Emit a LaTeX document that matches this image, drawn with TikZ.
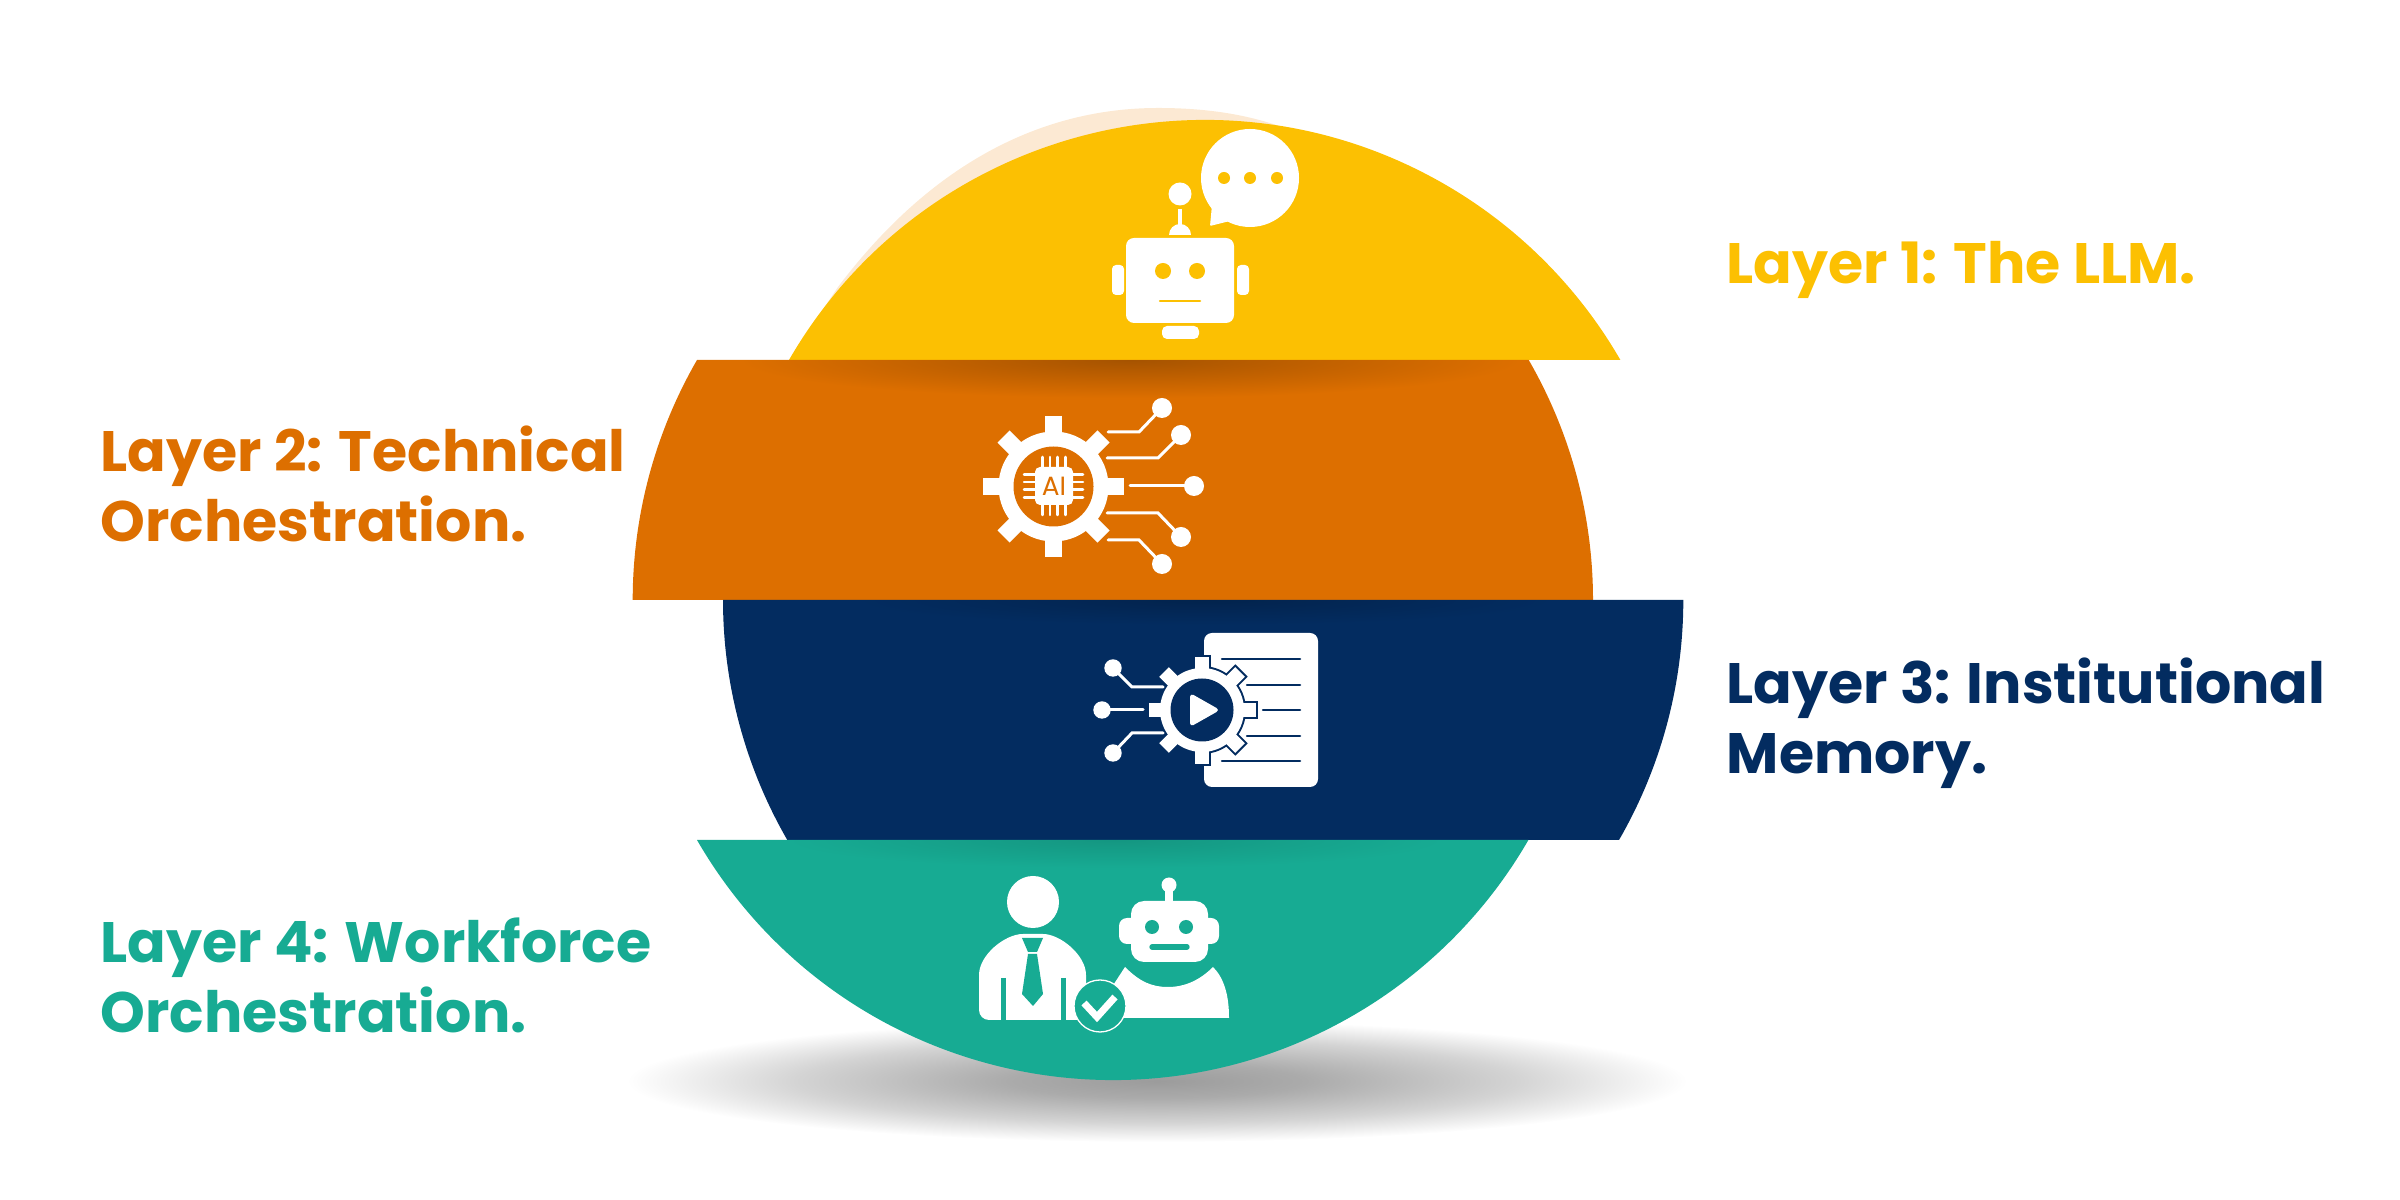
\documentclass[tikz,border=0pt]{standalone}
\usepackage{fontspec}
\setmainfont{Poppins}
\definecolor{layerone}{HTML}{FCC002}
\definecolor{layertwo}{HTML}{DD6F00}
\definecolor{layerthree}{HTML}{032C60}
\definecolor{layerfour}{HTML}{17AB93}
\definecolor{cream}{HTML}{FCE9D3}
\pgfdeclareradialshading{groundshadow}{\pgfpointorigin}{color(0bp)=(black!39); color(7bp)=(black!33); color(17bp)=(black!17); color(25bp)=(white); color(50bp)=(white)}
\tikzset{
  layertext/.style={font=\fontsize{16.2}{19.9}\selectfont\bfseries,align=left,anchor=north west,inner sep=0pt},
  wire/.style={white,line width=0.03cm,line cap=round},
  slot/.style={line width=0.025cm,line cap=round}
}
\begin{document}
\begin{tikzpicture}[x=0.01cm,y=-0.01cm,yshift=12cm]
\useasboundingbox (0,0) rectangle (2400,1200);

% Draw ground shadow
\shade[shading=groundshadow] (1157,1081) ellipse [x radius=530,y radius=61];

% Draw layers
\fill[cream] (789,360) -- (838,287) .. controls (930,165) and (1040,108) .. (1158,108) .. controls (1205,108) and (1245,114) .. (1282,127) -- cycle;
\fill[layerone] (789,360) arc (210:330:480) -- cycle;
\fill[layertwo] (697,360) arc (210:180:480) -- (1593,600) arc (360:330:480) -- cycle;
\fill[layerthree] (723,600) arc (180:150:480) -- (1619,840) arc (30:0:480) -- cycle;
\fill[layerfour] (697,840) arc (150:30:480) -- cycle;

% Add shadows under the upper edges
\begin{scope}
\clip (697,361) rectangle (1529,420);
\shade[inner color=layertwo!75!black,outer color=layertwo] (1130,360) ellipse [x radius=390,y radius=38];
\end{scope}
\begin{scope}
\clip (723,601) rectangle (1683,650);
\shade[inner color=layerthree!80!black,outer color=layerthree] (1205,600) ellipse [x radius=350,y radius=25];
\end{scope}
\begin{scope}
\clip (697,841) rectangle (1529,890);
\shade[inner color=layerfour!88!black,outer color=layerfour] (1115,840) ellipse [x radius=330,y radius=28];
\end{scope}

% Draw chat robot
\fill[white,rounded corners=0.08cm] (1126,238) rectangle (1234,323);
\fill[white,rounded corners=0.04cm] (1124,265) -- (1112,265) -- (1112,295) -- (1124,295) -- cycle;
\fill[white,rounded corners=0.04cm] (1237,265) -- (1249,265) -- (1249,295) -- (1237,295) -- cycle;
\fill[white,rounded corners=0.05cm] (1162,326) -- (1162,339) -- (1199,339) -- (1199,326) -- cycle;
\fill[layerone] (1163,271) circle (8);
\fill[layerone] (1197,271) circle (8);
\draw[layerone,slot] (1160,301) -- (1200,301);
\fill[white] (1180,194) circle (11.5);
\draw[white,line width=0.035cm] (1180,209) -- (1180,227);
\fill[white] (1169,235) arc (180:360:11) -- cycle;
\fill[white] (1250,178) circle (49);
\fill[white,rounded corners=0.01cm] (1212,205) -- (1210,226) -- (1230,221) -- cycle;
\fill[layerone] (1224,178) circle (6);
\fill[layerone] (1250,178) circle (6);
\fill[layerone] (1277,178) circle (6);

% Draw AI gear
\draw[white,line width=0.17cm] (983,486.5) -- (1124,486.5);
\draw[white,line width=0.17cm] (1053.5,416) -- (1053.5,557);
\draw[white,line width=0.17cm] (1003.5,436.5) -- (1103.5,536.5);
\draw[white,line width=0.17cm] (1003.5,536.5) -- (1103.5,436.5);
\fill[white] (1053.5,486.5) circle (55);
\fill[layertwo] (1053.5,486.5) circle (40);
\draw[wire,line width=0.025cm] (1024,474.3) -- (1083,474.3);
\draw[wire,line width=0.025cm] (1024,482) -- (1083,482);
\draw[wire,line width=0.025cm] (1024,489.7) -- (1083,489.7);
\draw[wire,line width=0.025cm] (1024,497.3) -- (1083,497.3);
\draw[wire,line width=0.025cm] (1042.3,457) -- (1042.3,515);
\draw[wire,line width=0.025cm] (1050,457) -- (1050,515);
\draw[wire,line width=0.025cm] (1057.7,457) -- (1057.7,515);
\draw[wire,line width=0.025cm] (1065.3,457) -- (1065.3,515);
\fill[white,rounded corners=0.05cm] (1035,467) rectangle (1073,505);
\node[layertwo,font=\fontsize{7.5}{9}\selectfont,inner sep=0pt] (chiplabel) at (1054,486) {AI};
\draw[wire] (1108,432) -- (1139,432) -- (1162,408);
\draw[wire] (1107,458) -- (1158,458) -- (1181,435);
\draw[wire] (1130,486) -- (1194,486);
\draw[wire] (1107,513) -- (1158,513) -- (1181,537);
\draw[wire] (1108,540) -- (1139,540) -- (1162,564);
\fill[white] (1162,408) circle (10);
\fill[white] (1181,435) circle (10);
\fill[white] (1194,486) circle (10);
\fill[white] (1181,537) circle (10);
\fill[white] (1162,564) circle (10);

% Draw document with gear
\fill[white,rounded corners=0.08cm] (1204,633) rectangle (1318,787);
\draw[layerthree,slot] (1222,659) -- (1300,659);
\draw[layerthree,slot] (1247,685) -- (1300,685);
\draw[layerthree,slot] (1263,710) -- (1300,710);
\draw[layerthree,slot] (1247,736) -- (1300,736);
\draw[layerthree,slot] (1222,761) -- (1300,761);
\draw[layerthree,line width=0.175cm] (1147,710) -- (1258,710);
\draw[layerthree,line width=0.175cm] (1202,655) -- (1202,766);
\draw[layerthree,line width=0.175cm] (1162.5,670.5) -- (1241.5,749.5);
\draw[layerthree,line width=0.175cm] (1162.5,749.5) -- (1241.5,670.5);
\fill[layerthree] (1202,710) circle (44);
\draw[white,line width=0.135cm] (1149,710) -- (1256,710);
\draw[white,line width=0.135cm] (1202,657) -- (1202,764);
\draw[white,line width=0.135cm] (1164,672) -- (1240,748);
\draw[white,line width=0.135cm] (1164,748) -- (1240,672);
\fill[white] (1202,710) circle (42);
\fill[layerthree] (1202,710) circle (31.5);
\fill[white,rounded corners=0.04cm] (1190,693) -- (1220,710) -- (1190,727) -- cycle;
\draw[wire] (1163,687) -- (1132,687) -- (1113,668);
\draw[wire] (1143,710) -- (1102,710);
\draw[wire] (1163,733) -- (1132,733) -- (1113,753);
\fill[white] (1113,668) circle (8.7);
\fill[white] (1102,710) circle (8.7);
\fill[white] (1113,753) circle (8.7);

% Draw worker
\fill[white] (1033,902) circle (26);
\fill[white,rounded corners=0.1cm] (979,985) .. controls (979,955) and (1005,934) .. (1033,934) .. controls (1060,934) and (1086,955) .. (1086,985) -- (1086,1020) -- (979,1020) -- cycle;
\draw[layerfour,line width=0.05cm] (1003,978) -- (1003,1021);
\draw[layerfour,line width=0.05cm] (1063,978) -- (1063,1021);
\fill[layerfour] (1022,938) -- (1043,938) -- (1037,952) -- (1028,952) -- cycle;
\fill[layerfour] (1028,954) -- (1037,954) -- (1043,994) -- (1033,1006) -- (1022,994) -- cycle;

% Draw teammate robot
\fill[white] (1125,967) .. controls (1140,982) and (1152,987) .. (1168,987) .. controls (1185,987) and (1200,980) .. (1213,967) .. controls (1224,978) and (1229,995) .. (1229,1018) -- (1110,1018) -- (1110,990) -- cycle;
\fill[white,rounded corners=0.13cm] (1131,901) rectangle (1208,962);
\fill[white,rounded corners=0.08cm] (1119,918) rectangle (1219,944);
\draw[white,line width=0.08cm] (1169,885) -- (1169,901);
\fill[white] (1169,885) circle (7.5);
\fill[layerfour] (1152,927) circle (7);
\fill[layerfour] (1186,927) circle (7);
\draw[layerfour,line width=0.053cm,line cap=round] (1152,947) -- (1187,947);

% Draw check badge
\fill[layerfour,draw=white,line width=0.013cm] (1100,1006) circle (26);
\draw[white,line width=0.07cm] (1084,1003) -- (1097,1017) -- (1115,997);

% Label layers
\node[layertext,text=layerone] (labelone) at (1726,241) {Layer 1: The LLM.};
\node[layertext,text=layertwo] (labeltwo) at (100,425) {Layer 2: Technical\\Orchestration.};
\node[layertext,text=layerthree] (labelthree) at (1726,657) {Layer 3: Institutional\\Memory.};
\node[layertext,text=layerfour] (labelfour) at (100,917) {Layer 4: Workforce\\Orchestration.};
\end{tikzpicture}
\end{document}
